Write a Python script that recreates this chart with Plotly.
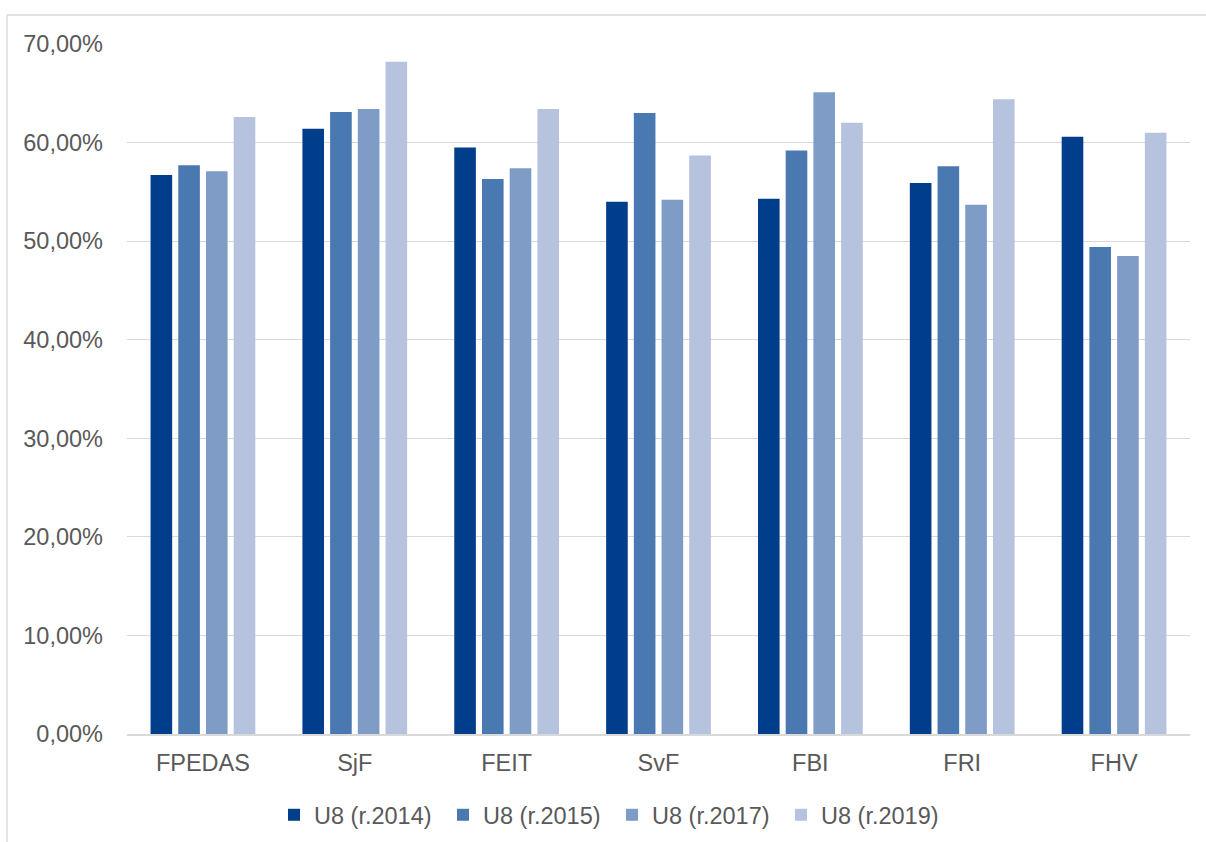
import plotly.graph_objects as go

categories = ["FPEDAS", "SjF", "FEIT", "SvF", "FBI", "FRI", "FHV"]
series_names = ["U8 (r.2014)", "U8 (r.2015)", "U8 (r.2017)", "U8 (r.2019)"]
u8_2014 = [56.7, 61.4, 59.5, 54.0, 54.3, 55.9, 60.6]
u8_2015 = [57.7, 63.1, 56.3, 63.0, 59.2, 57.6, 49.4]
u8_2017 = [57.1, 63.4, 57.4, 54.2, 65.1, 53.7, 48.5]
u8_2019 = [62.6, 68.2, 63.4, 58.7, 62.0, 64.4, 61.0]
tick_vals = [0, 10, 20, 30, 40, 50, 60, 70]
tick_text = ["0,00%", "10,00%", "20,00%", "30,00%", "40,00%", "50,00%", "60,00%", "70,00%"]

colors = ["#003E8C", "#4A78B0", "#7F9CC7", "#B5C3DF"]
series = [u8_2014, u8_2015, u8_2017, u8_2019]

W, H = 1206, 842
L, R, T, B = 127, 16, 44, 108
FS = 23.5

fig = go.Figure()
for name, vals, col in zip(series_names, series, colors):
    fig.add_trace(go.Bar(
        x=categories, y=vals, name=name,
        marker=dict(color=col, line=dict(width=0)),
        hovertemplate="%{x}: %{y:.2f}%<extra>" + name + "</extra>",
    ))

pw = W - L - R
ph = H - T - B
# chart border: only the left and top edges are visible in the picture
bx = (7 - L) / pw
by = 1 + (T - 15) / ph
fig.add_shape(type="line", xref="paper", yref="paper",
              x0=bx, x1=bx, y0=by, y1=-(H - T - ph + 10) / ph,
              line=dict(color="#D9D9D9", width=1.3), layer="below")
fig.add_shape(type="line", xref="paper", yref="paper",
              x0=bx, x1=(W + 10 - L) / pw, y0=by, y1=by,
              line=dict(color="#D9D9D9", width=1.3), layer="below")

fig.update_layout(
    width=W, height=H,
    margin=dict(l=L, r=R, t=T, b=B, pad=0, autoexpand=False),
    paper_bgcolor="white", plot_bgcolor="white",
    barmode="group", bargap=0.27, bargroupgap=0.22,
    font=dict(family="Liberation Sans, Arial, sans-serif", size=FS, color="#595959"),
    showlegend=True,
    legend=dict(
        orientation="h", x=(274 - L) / pw, xanchor="left",
        y=-(815 - (T + ph)) / ph, yanchor="middle",
        font=dict(family="Liberation Sans, Arial, sans-serif", size=FS, color="#595959"),
        entrywidth=124, entrywidthmode="pixels",
        itemwidth=30, traceorder="normal",
        bgcolor="rgba(0,0,0,0)",
    ),
    xaxis=dict(
        showgrid=False, showline=True, linecolor="#D9D9D9", linewidth=1.5,
        ticks="", ticklabelstandoff=7, automargin=False,
    ),
    yaxis=dict(
        range=[0, 70], tickvals=tick_vals, ticktext=tick_text,
        showgrid=True, gridcolor="#D9D9D9", gridwidth=1.3,
        zeroline=False, showline=False, ticks="",
        ticklabelstandoff=23, automargin=False,
    ),
)

fig.write_html(
    "out.html",
    config={"displayModeBar": False},
    post_script="document.body.style.margin='0px';document.body.style.overflow='hidden';",
)
